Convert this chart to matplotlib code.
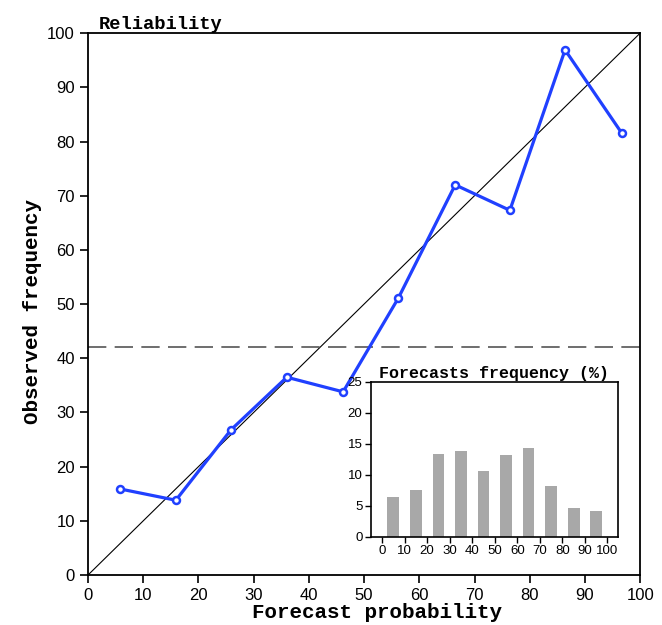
import matplotlib.pyplot as plt

# reliability curve (mean forecast probability per bin vs observed frequency, %)
fc_prob = [5.7, 15.9, 25.9, 36.0, 46.2, 56.2, 66.5, 76.4, 86.4, 96.7]
obs_freq = [15.9, 13.8, 26.8, 36.5, 33.8, 51.1, 72.0, 67.3, 96.9, 81.5]
climatology = 42.1

# forecast frequency histogram (%)
bin_centers = [5, 15, 25, 35, 45, 55, 65, 75, 85, 95]
bin_freq = [6.5, 7.6, 13.4, 13.9, 10.6, 13.2, 14.3, 8.2, 4.7, 4.1]

MONO = "Liberation Mono"
SANS = "Liberation Sans"
BLUE = "#2040ff"

fig = plt.figure(figsize=(6.62, 6.25), dpi=100)
ax = fig.add_axes([0.133, 0.08, 0.834, 0.867])
ax.plot([0, 100], [0, 100], color="black", lw=0.8, zorder=2)
ax.axhline(climatology, color="#555555", lw=1.2, ls=(0, (11, 5)), zorder=2)
ax.plot(fc_prob, obs_freq, color=BLUE, lw=2.3, marker="o", ms=5,
        mfc="white", mec=BLUE, mew=1.8, zorder=3, clip_on=False)
ax.set_xlim(0, 100); ax.set_ylim(0, 100)
ax.set_xticks(range(0, 101, 10)); ax.set_yticks(range(0, 101, 10))
ax.tick_params(direction="out", length=6, width=1.2, labelsize=12, top=False, right=False)
for lab in ax.get_xticklabels() + ax.get_yticklabels():
    lab.set_family(SANS)
for s in ax.spines.values():
    s.set_linewidth(1.3)
ax.set_xlabel("Forecast probability", family=MONO, fontweight="bold", fontsize=15, va="center")
ax.set_ylabel("Observed frequency", family=MONO, fontweight="bold", fontsize=15, va="center")
ax.xaxis.set_label_coords(0.524, -0.07)
ax.yaxis.set_label_coords(-0.1, 0.487)
ax.set_title("Reliability", family=MONO, fontweight="bold", fontsize=13.5, loc="left", x=0.02, pad=3)

ins = fig.add_axes([0.560, 0.141, 0.373, 0.248])
ins.bar(bin_centers, bin_freq, width=5.2, color="#a8a8a8")
ins.set_xlim(-5, 104.5); ins.set_ylim(0, 25)
ins.set_xticks(range(0, 101, 10)); ins.set_yticks(range(0, 26, 5))
ins.tick_params(direction="out", length=4, width=1.0, labelsize=9.5, pad=2)
for lab in ins.get_xticklabels() + ins.get_yticklabels():
    lab.set_family(SANS)
for s in ins.spines.values():
    s.set_linewidth(1.2)
ins.set_title("Forecasts frequency (%)", family=MONO, fontweight="bold", fontsize=12, pad=3)

fig.savefig("out.png", facecolor="white")
